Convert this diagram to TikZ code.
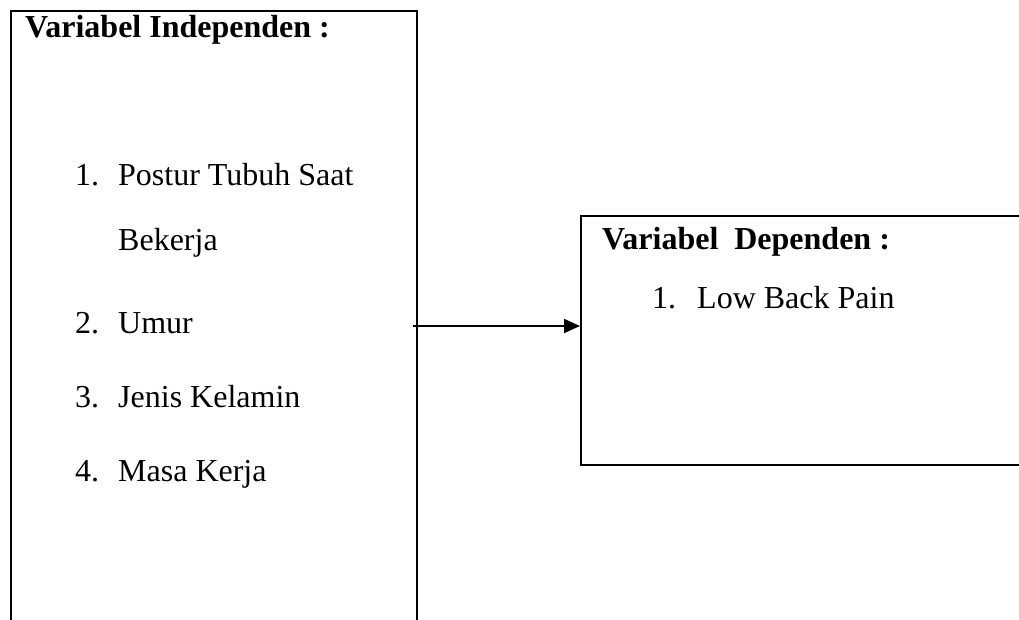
\documentclass[tikz,border=0pt]{standalone}
\usepackage{fontspec}
\setmainfont{Liberation Serif}
\usetikzlibrary{arrows.meta}
\begin{document}
\begin{tikzpicture}[x=1pt,y=-1pt,
  frame/.style={draw=black, line width=2.2pt, inner sep=0pt, anchor=north west},
  label/.style={inner sep=0pt, anchor=base west, font=\fontsize{32}{38}\selectfont},
  head/.style={label, font=\fontsize{32}{38}\selectfont\bfseries},
  link/.style={line width=2pt, -{Triangle[length=16pt,width=14pt]}}]
\useasboundingbox (0,0) rectangle (1019,620);
\clip (0,0) rectangle (1019,620);

% boxes
\node[frame, minimum width=406pt, minimum height=700pt] (indep) at (10,10) {};
\node[frame, minimum width=480pt, minimum height=249pt] (dep) at (580,215) {};

% independent variables
\node[head] (ih) at (25,38) {Variabel Independen :};
\node[label] (n1) at (75,186) {1.};
\node[label] (t1) at (118,186) {Postur Tubuh Saat};
\node[label] (t1b) at (118,251) {Bekerja};
\node[label] (n2) at (75,333) {2.};
\node[label] (t2) at (118,333) {Umur};
\node[label] (n3) at (75,407) {3.};
\node[label] (t3) at (118,407) {Jenis Kelamin};
\node[label] (n4) at (75,481) {4.};
\node[label] (t4) at (118,481) {Masa Kerja};

% dependent variable
\node[head] (dh) at (602,249) {Variabel\ \ Dependen :};
\node[label] (m1) at (652,308) {1.};
\node[label] (s1) at (697,308) {Low Back Pain};

% connector
\coordinate (src) at (413,326);
\draw[link] (src) -- (dep.west |- src);
\end{tikzpicture}
\end{document}
